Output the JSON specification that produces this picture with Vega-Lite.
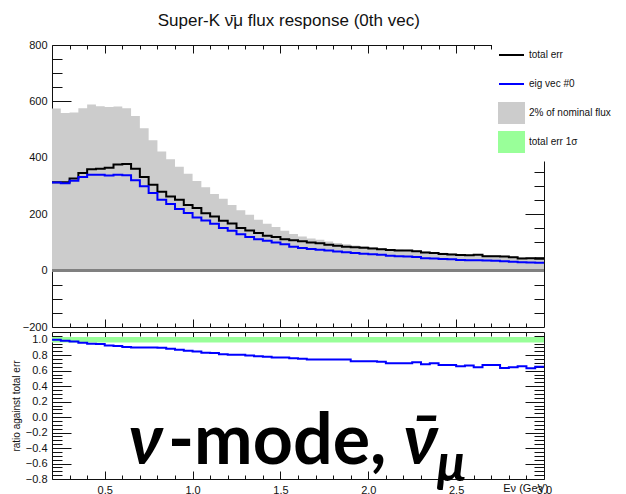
{
  "$schema": "https://vega.github.io/schema/vega-lite/v6.json",
  "background": "white",
  "bounds": "flush",
  "padding": {"left": 10, "top": 11, "right": 0, "bottom": 0},
  "title": {"text": "Super-K  ν̄μ flux response (0th vec)", "font": "Liberation Sans", "fontSize": 17, "fontWeight": "normal", "color": "#111", "anchor": "middle", "offset": 6, "dx": -25},
  "config": {
    "view": {"stroke": "#111", "strokeWidth": 1},
    "axis": {"labelFont": "Liberation Sans", "labelFontSize": 11, "labelColor": "#111", "domain": false, "grid": false, "ticks": true, "tickColor": "#111", "tickWidth": 1, "labelOverlap": false, "zindex": 1, "title": null}
  },
  "spacing": 5,
  "datasets": {
    "bins": [
      {"i": 0, "lo": 0.2, "hi": 0.25, "gray": 575, "tot": 313, "eig": 312, "ratio": 1.0},
      {"i": 1, "lo": 0.25, "hi": 0.3, "gray": 559, "tot": 313, "eig": 310, "ratio": 0.987},
      {"i": 2, "lo": 0.3, "hi": 0.35, "gray": 561, "tot": 327, "eig": 319, "ratio": 0.978},
      {"i": 3, "lo": 0.35, "hi": 0.4, "gray": 576, "tot": 346, "eig": 332, "ratio": 0.961},
      {"i": 4, "lo": 0.4, "hi": 0.45, "gray": 589, "tot": 359, "eig": 340, "ratio": 0.948},
      {"i": 5, "lo": 0.45, "hi": 0.5, "gray": 583, "tot": 361, "eig": 340, "ratio": 0.944},
      {"i": 6, "lo": 0.5, "hi": 0.55, "gray": 580, "tot": 365, "eig": 337, "ratio": 0.926},
      {"i": 7, "lo": 0.55, "hi": 0.6, "gray": 582, "tot": 376, "eig": 340, "ratio": 0.918},
      {"i": 8, "lo": 0.6, "hi": 0.65, "gray": 576, "tot": 378, "eig": 338, "ratio": 0.905},
      {"i": 9, "lo": 0.65, "hi": 0.7, "gray": 548, "tot": 361, "eig": 320, "ratio": 0.9},
      {"i": 10, "lo": 0.7, "hi": 0.75, "gray": 505, "tot": 332, "eig": 299, "ratio": 0.9},
      {"i": 11, "lo": 0.75, "hi": 0.8, "gray": 462, "tot": 304, "eig": 275, "ratio": 0.9},
      {"i": 12, "lo": 0.8, "hi": 0.85, "gray": 422, "tot": 280, "eig": 251, "ratio": 0.898},
      {"i": 13, "lo": 0.85, "hi": 0.9, "gray": 395, "tot": 263, "eig": 236, "ratio": 0.883},
      {"i": 14, "lo": 0.9, "hi": 0.95, "gray": 368, "tot": 251, "eig": 218, "ratio": 0.87},
      {"i": 15, "lo": 0.95, "hi": 1.0, "gray": 343, "tot": 233, "eig": 204, "ratio": 0.857},
      {"i": 16, "lo": 1.0, "hi": 1.05, "gray": 318, "tot": 222, "eig": 188, "ratio": 0.848},
      {"i": 17, "lo": 1.05, "hi": 1.1, "gray": 296, "tot": 203, "eig": 178, "ratio": 0.831},
      {"i": 18, "lo": 1.1, "hi": 1.15, "gray": 272, "tot": 192, "eig": 166, "ratio": 0.827},
      {"i": 19, "lo": 1.15, "hi": 1.2, "gray": 255, "tot": 177, "eig": 151, "ratio": 0.814},
      {"i": 20, "lo": 1.2, "hi": 1.25, "gray": 233, "tot": 167, "eig": 141, "ratio": 0.805},
      {"i": 21, "lo": 1.25, "hi": 1.3, "gray": 214, "tot": 151, "eig": 129, "ratio": 0.805},
      {"i": 22, "lo": 1.3, "hi": 1.35, "gray": 198, "tot": 142, "eig": 119, "ratio": 0.797},
      {"i": 23, "lo": 1.35, "hi": 1.4, "gray": 180, "tot": 133, "eig": 111, "ratio": 0.788},
      {"i": 24, "lo": 1.4, "hi": 1.45, "gray": 166, "tot": 124, "eig": 106, "ratio": 0.78},
      {"i": 25, "lo": 1.45, "hi": 1.5, "gray": 155, "tot": 119, "eig": 100, "ratio": 0.77},
      {"i": 26, "lo": 1.5, "hi": 1.55, "gray": 141, "tot": 111, "eig": 93, "ratio": 0.77},
      {"i": 27, "lo": 1.55, "hi": 1.6, "gray": 130, "tot": 108, "eig": 85, "ratio": 0.762},
      {"i": 28, "lo": 1.6, "hi": 1.65, "gray": 121, "tot": 104, "eig": 80, "ratio": 0.753},
      {"i": 29, "lo": 1.65, "hi": 1.7, "gray": 114, "tot": 100, "eig": 77, "ratio": 0.745},
      {"i": 30, "lo": 1.7, "hi": 1.75, "gray": 109, "tot": 97, "eig": 74, "ratio": 0.745},
      {"i": 31, "lo": 1.75, "hi": 1.8, "gray": 103, "tot": 92, "eig": 71, "ratio": 0.745},
      {"i": 32, "lo": 1.8, "hi": 1.85, "gray": 98, "tot": 88, "eig": 68, "ratio": 0.745},
      {"i": 33, "lo": 1.85, "hi": 1.9, "gray": 93, "tot": 85, "eig": 65, "ratio": 0.745},
      {"i": 34, "lo": 1.9, "hi": 1.95, "gray": 89, "tot": 83, "eig": 62, "ratio": 0.723},
      {"i": 35, "lo": 1.95, "hi": 2.0, "gray": 86, "tot": 81, "eig": 60, "ratio": 0.723},
      {"i": 36, "lo": 2.0, "hi": 2.05, "gray": 83, "tot": 78, "eig": 58, "ratio": 0.723},
      {"i": 37, "lo": 2.05, "hi": 2.1, "gray": 80, "tot": 76, "eig": 56, "ratio": 0.714},
      {"i": 38, "lo": 2.1, "hi": 2.15, "gray": 77, "tot": 73, "eig": 53, "ratio": 0.697},
      {"i": 39, "lo": 2.15, "hi": 2.2, "gray": 75, "tot": 71, "eig": 51, "ratio": 0.697},
      {"i": 40, "lo": 2.2, "hi": 2.25, "gray": 74, "tot": 71, "eig": 50, "ratio": 0.697},
      {"i": 41, "lo": 2.25, "hi": 2.3, "gray": 72, "tot": 69, "eig": 48, "ratio": 0.71},
      {"i": 42, "lo": 2.3, "hi": 2.35, "gray": 68, "tot": 64, "eig": 44, "ratio": 0.684},
      {"i": 43, "lo": 2.35, "hi": 2.4, "gray": 66, "tot": 62, "eig": 43, "ratio": 0.697},
      {"i": 44, "lo": 2.4, "hi": 2.45, "gray": 63, "tot": 59, "eig": 41, "ratio": 0.675},
      {"i": 45, "lo": 2.45, "hi": 2.5, "gray": 61, "tot": 57, "eig": 40, "ratio": 0.675},
      {"i": 46, "lo": 2.5, "hi": 2.55, "gray": 59, "tot": 55, "eig": 38, "ratio": 0.658},
      {"i": 47, "lo": 2.55, "hi": 2.6, "gray": 57, "tot": 54, "eig": 37, "ratio": 0.667},
      {"i": 48, "lo": 2.6, "hi": 2.65, "gray": 58, "tot": 56, "eig": 37, "ratio": 0.645},
      {"i": 49, "lo": 2.65, "hi": 2.7, "gray": 55, "tot": 51, "eig": 36, "ratio": 0.675},
      {"i": 50, "lo": 2.7, "hi": 2.75, "gray": 54, "tot": 51, "eig": 35, "ratio": 0.675},
      {"i": 51, "lo": 2.75, "hi": 2.8, "gray": 53, "tot": 50, "eig": 33, "ratio": 0.636},
      {"i": 52, "lo": 2.8, "hi": 2.85, "gray": 50, "tot": 47, "eig": 31, "ratio": 0.645},
      {"i": 53, "lo": 2.85, "hi": 2.9, "gray": 47, "tot": 43, "eig": 30, "ratio": 0.658},
      {"i": 54, "lo": 2.9, "hi": 2.95, "gray": 47, "tot": 44, "eig": 29, "ratio": 0.632},
      {"i": 55, "lo": 2.95, "hi": 3.0, "gray": 46, "tot": 42, "eig": 28, "ratio": 0.65}
    ],
    "band": [{"lo": 0.2, "hi": 3.0, "bl": 0.965, "bh": 1.035}]
  },
  "vconcat": [
    {
      "width": 492,
      "height": 282,
      "data": {"name": "bins"},
      "transform": [{"fold": ["lo", "hi"], "as": ["edge", "E"]}],
      "resolve": {"axis": {"x": "independent", "y": "independent"}},
      "layer": [
        {
          "mark": {"type": "area", "fillOpacity": 1},
          "encoding": {
            "x": {"field": "E", "type": "quantitative", "scale": {"domain": [0.2, 3.0], "nice": false, "zero": false},
              "axis": {"orient": "bottom", "labels": false, "tickSize": -8, "values": [0.5, 1.0, 1.5, 2.0, 2.5]}},
            "y": {"field": "gray", "type": "quantitative", "scale": {"domain": [-200, 800], "nice": false, "zero": false},
              "axis": {"orient": "left", "tickSize": -19, "labelPadding": 24, "format": "d", "values": [-200, 0, 200, 400, 600, 800]}},
            "y2": {"datum": 0},
            "color": {"datum": "2% of nominal flux", "type": "nominal",
              "scale": {"domain": ["total err", "eig vec #0", "2% of nominal flux", "total err 1σ"], "range": ["#000000", "#0000ff", "#cccccc", "#99ff99"]},
              "legend": {"orient": "none", "legendX": 440, "legendY": -9.5, "title": null, "fillColor": "white", "padding": 6, "zindex": 2,
                "labelFont": "Liberation Sans", "labelFontSize": 10, "labelColor": "#111", "labelOffset": 4, "labelLimit": 200,
                "symbolSize": 625, "symbolStrokeWidth": 2, "rowPadding": 2, "clipHeight": 27,
                "encode": {"symbols": {"update": {
                  "shape": {"signal": "datum.value === 'total err' || datum.value === 'eig vec #0' ? 'M-1,0H1' : 'M-1,-0.8H1V0.8H-1Z'"},
                  "fill": {"signal": "datum.value === '2% of nominal flux' ? '#cccccc' : datum.value === 'total err 1σ' ? '#99ff99' : 'transparent'"},
                  "stroke": {"signal": "datum.value === 'total err' ? '#000000' : datum.value === 'eig vec #0' ? '#0000ff' : datum.value === 'total err 1σ' ? '#666666' : 'transparent'"},
                  "opacity": {"value": 1},
                  "fillOpacity": {"value": 1}
                }}}}}
          }
        },
        {
          "mark": {"type": "rule", "color": "#808080", "strokeWidth": 2.5},
          "encoding": {
            "x": {"datum": 0.2, "type": "quantitative",
              "axis": {"orient": "top", "labels": false, "tickSize": -4, "values": [0.3,0.4,0.6,0.7,0.8,0.9,1.1,1.2,1.3,1.4,1.6,1.7,1.8,1.9,2.1,2.2,2.3,2.4,2.6,2.7,2.8,2.9]}},
            "x2": {"datum": 3.0},
            "y": {"datum": 0, "type": "quantitative",
              "axis": {"orient": "right", "labels": false, "tickSize": -10, "values": [-150,-100,-50,50,100,150,250,300,350,450,500,550,650,700,750]}}
          }
        },
        {
          "mark": {"type": "line", "strokeWidth": 2},
          "encoding": {
            "x": {"field": "E", "type": "quantitative",
              "axis": {"orient": "top", "labels": false, "tickSize": -8, "values": [0.5, 1.0, 1.5, 2.0, 2.5]}},
            "y": {"field": "tot", "type": "quantitative",
              "axis": {"orient": "right", "labels": false, "tickSize": -19, "values": [0, 200, 400, 600]}},
            "color": {"datum": "total err", "type": "nominal"}
          }
        },
        {
          "mark": {"type": "line", "strokeWidth": 2},
          "encoding": {
            "x": {"field": "E", "type": "quantitative",
              "axis": {"orient": "bottom", "labels": false, "tickSize": -4, "values": [0.3,0.4,0.6,0.7,0.8,0.9,1.1,1.2,1.3,1.4,1.6,1.7,1.8,1.9,2.1,2.2,2.3,2.4,2.6,2.7,2.8,2.9]}},
            "y": {"field": "eig", "type": "quantitative",
              "axis": {"orient": "left", "labels": false, "tickSize": -10, "values": [-150,-100,-50,50,100,150,250,300,350,450,500,550,650,700,750]}},
            "color": {"datum": "eig vec #0", "type": "nominal"}
          }
        }
      ]
    },
    {
      "width": 492,
      "height": 147,
      "resolve": {"axis": {"x": "independent", "y": "independent"}},
      "layer": [
        {
          "data": {"name": "band"},
          "mark": {"type": "rect", "color": "#99ff99"},
          "encoding": {
            "x": {"field": "lo", "type": "quantitative", "scale": {"domain": [0.2, 3.0], "nice": false, "zero": false},
              "axis": {"orient": "bottom", "tickSize": -8, "labelPadding": 13, "format": ".1f", "labelFlush": false,
                "values": [0.5, 1.0, 1.5, 2.0, 2.5, 3.0],
                "title": "Eν (GeV)", "titleFont": "Liberation Sans", "titleFontSize": 11, "titleFontWeight": "normal", "titleColor": "#111",
                "titleX": 496, "titleY": 9, "titleAlign": "right", "titleBaseline": "middle"}},
            "x2": {"field": "hi"},
            "y": {"field": "bl", "type": "quantitative", "scale": {"domain": [-0.8, 1.1], "nice": false, "zero": false},
              "axis": {"orient": "left", "tickSize": -19, "labelPadding": 24, "format": ".1f",
                "values": [-0.8, -0.6, -0.4, -0.2, 0, 0.2, 0.4, 0.6, 0.8, 1.0],
                "title": "ratio against total err", "titleFont": "Liberation Sans", "titleFontSize": 10, "titleFontWeight": "normal", "titleColor": "#111",
                "titleX": -36, "titleBaseline": "middle"}},
            "y2": {"field": "bh"}
          }
        },
        {
          "mark": {"type": "rule", "color": "#555555", "strokeWidth": 1},
          "encoding": {
            "x": {"datum": 0.2, "type": "quantitative",
              "axis": {"orient": "top", "labels": false, "tickSize": -4, "values": [0.3,0.4,0.6,0.7,0.8,0.9,1.1,1.2,1.3,1.4,1.6,1.7,1.8,1.9,2.1,2.2,2.3,2.4,2.6,2.7,2.8,2.9]}},
            "x2": {"datum": 3.0},
            "y": {"datum": 0, "type": "quantitative",
              "axis": {"orient": "right", "labels": false, "tickSize": -10, "values": [-0.75,-0.7,-0.65,-0.55,-0.5,-0.45,-0.35,-0.3,-0.25,-0.15,-0.1,-0.05,0.05,0.1,0.15,0.25,0.3,0.35,0.45,0.5,0.55,0.65,0.7,0.75,0.85,0.9,0.95,1.05]}}
          }
        },
        {
          "data": {"name": "bins"},
          "transform": [{"fold": ["lo", "hi"], "as": ["edge", "E"]}],
          "mark": {"type": "line", "color": "#0000ff", "strokeWidth": 2},
          "encoding": {
            "x": {"field": "E", "type": "quantitative",
              "axis": {"orient": "top", "labels": false, "tickSize": -8, "values": [0.5, 1.0, 1.5, 2.0, 2.5]}},
            "y": {"field": "ratio", "type": "quantitative",
              "axis": {"orient": "right", "labels": false, "tickSize": -19, "values": [-0.6, -0.4, -0.2, 0, 0.2, 0.4, 0.6, 0.8, 1.0]}}
          }
        },
        {
          "data": {"values": [{"t": "ν"}]},
          "mark": {"type": "text", "font": "Lato", "fontSize": 70, "fontWeight": "bold", "fontStyle": "italic", "align": "left", "baseline": "alphabetic", "color": "#000000"},
          "encoding": {
            "x": {"datum": 0.635, "type": "quantitative",
              "axis": {"orient": "bottom", "labels": false, "tickSize": -4, "values": [0.3,0.4,0.6,0.7,0.8,0.9,1.1,1.2,1.3,1.4,1.6,1.7,1.8,1.9,2.1,2.2,2.3,2.4,2.6,2.7,2.8,2.9]}},
            "y": {"datum": -0.61, "type": "quantitative",
              "axis": {"orient": "left", "labels": false, "tickSize": -10, "values": [-0.75,-0.7,-0.65,-0.55,-0.5,-0.45,-0.35,-0.3,-0.25,-0.15,-0.1,-0.05,0.05,0.1,0.15,0.25,0.3,0.35,0.45,0.5,0.55,0.65,0.7,0.75,0.85,0.9,0.95,1.05]}},
            "text": {"field": "t"}
          }
        },
        {
          "data": {"values": [{"t": "-mode,"}]},
          "mark": {"type": "text", "font": "Lato", "fontSize": 70, "fontWeight": "bold", "align": "left", "baseline": "alphabetic", "color": "#000000"},
          "encoding": {
            "x": {"datum": 0.86, "type": "quantitative", "axis": null},
            "y": {"datum": -0.61, "type": "quantitative", "axis": null},
            "text": {"field": "t"}
          }
        },
        {
          "data": {"values": [{"t": "ν̄"}]},
          "mark": {"type": "text", "font": "Lato", "fontSize": 70, "fontWeight": "bold", "fontStyle": "italic", "align": "left", "baseline": "alphabetic", "color": "#000000"},
          "encoding": {
            "x": {"datum": 2.2, "type": "quantitative", "axis": null},
            "y": {"datum": -0.61, "type": "quantitative", "axis": null},
            "text": {"field": "t"}
          }
        },
        {
          "data": {"values": [{"t": "μ"}]},
          "mark": {"type": "text", "font": "Lato", "fontSize": 52, "fontWeight": "bold", "fontStyle": "italic", "align": "left", "baseline": "alphabetic", "color": "#000000"},
          "encoding": {
            "x": {"datum": 2.39, "type": "quantitative", "axis": null},
            "y": {"datum": -0.83, "type": "quantitative", "axis": null},
            "text": {"field": "t"}
          }
        }
      ]
    }
  ]
}
